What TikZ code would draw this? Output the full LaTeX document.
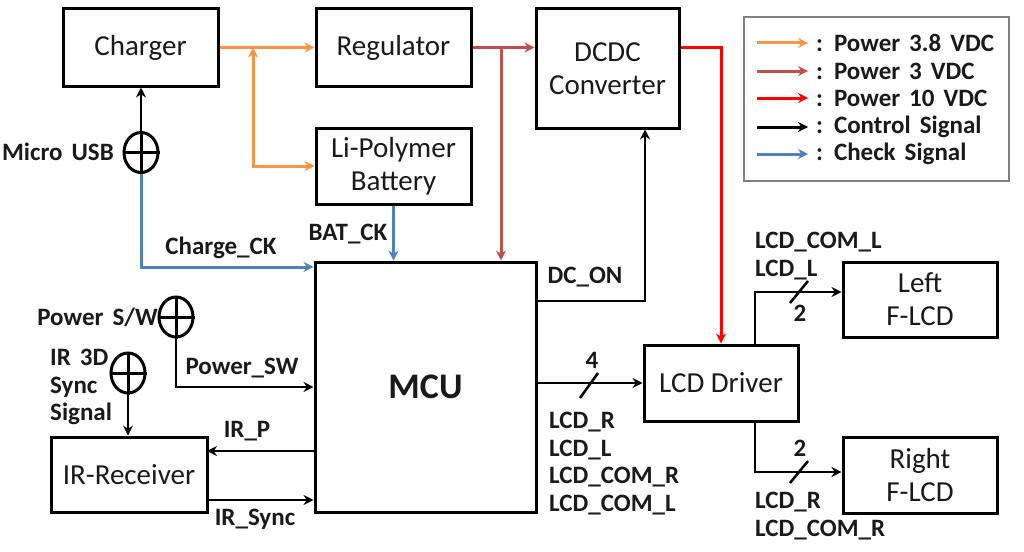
\documentclass[tikz,border=0pt]{standalone}
\usepackage{fontspec}
\setmainfont{Carlito}[BoldFeatures={WordSpace=1.6}]
\usetikzlibrary{arrows.meta,shapes.geometric,calc}
\definecolor{cOrange}{HTML}{F79646}
\definecolor{cBrown}{HTML}{C0504D}
\definecolor{cRed}{HTML}{FF0000}
\definecolor{cBlue}{HTML}{4F81BD}
\definecolor{cText}{HTML}{1A1A1A}
\definecolor{cGray}{HTML}{808080}
\tikzset{
  >={Stealth[length=10pt,width=10pt]},
  blk/.style={draw=black, line width=3pt, text=cText, font=\fontsize{29}{33}\selectfont, align=center, inner sep=0pt},
  lbl/.style={font=\bfseries\fontsize{25}{27.5}\selectfont, text=cText, inner sep=0pt},
  conn/.style={line width=2.5pt, ->},
  pOrange/.style={conn, draw=cOrange, line width=3pt},
  pBrown/.style={conn, draw=cBrown, line width=3pt},
  pRed/.style={conn, draw=cRed, line width=3pt},
  pCtrl/.style={conn, draw=black},
  pCheck/.style={conn, draw=cBlue, line width=3pt},
  jack/.style={ellipse, draw=black, line width=3pt, minimum width=34pt, minimum height=40pt, inner sep=0pt},
  busslash/.style={line width=2.5pt, draw=black},
}
\begin{document}
\begin{tikzpicture}[x=1pt,y=-1pt]
\useasboundingbox (0,0) rectangle (1024,551);
\fill[white] (0,0) rectangle (1024,551);

% blocks
\node[blk, minimum width=155pt, minimum height=77pt] (charger) at (140.5,47.5) {Charger};
\node[blk, minimum width=155pt, minimum height=77pt] (regulator) at (393.5,47.5) {Regulator};
\node[blk, minimum width=155pt, minimum height=76pt] (battery) at (393.5,166) {Li-Polymer\\Battery};
\node[blk, minimum width=143pt, minimum height=119pt] (dcdc) at (607.5,68.5) {DCDC\\Converter};
\node[blk, minimum width=221pt, minimum height=250pt, font=\bfseries\fontsize{36}{40}\selectfont] (mcu) at (425.5,387) {MCU};
\node[blk, minimum width=154pt, minimum height=76pt] (lcd) at (721,383) {LCD Driver};
\node[blk, minimum width=154pt, minimum height=75pt] (left) at (920,299.5) {Left\\F-LCD};
\node[blk, minimum width=154pt, minimum height=76pt] (right) at (920,475) {Right\\F-LCD};
\node[blk, minimum width=156pt, minimum height=75pt] (irr) at (129,474.5) {IR-Receiver};

% jacks
\node[jack] (usb) at (141,152.5) {};
\node[jack] (psw) at (176,317) {};
\node[jack] (ir3d) at (128,373) {};
\foreach \j in {usb,psw,ir3d}{
  \draw[line width=3pt] (\j.west) -- (\j.east) (\j.north) -- (\j.south);
}

% junction coordinates
\coordinate (j1) at (253,47.5);
\coordinate (j2) at (501,47.5);
\coordinate (j3) at (721,47.5);
\coordinate (dcon) at (645,301);
\coordinate (ck) at (141,267);
\coordinate (irp) at (207,451);
\coordinate (irs) at (207,500);
\coordinate (lu) at (755,292);
\coordinate (ld) at (755,472);

% power lines
\draw[pOrange] (charger.east) -- (regulator.west);
\draw[pOrange, <->] (j1) |- (battery.west);
\draw[pBrown] (regulator.east) -- (regulator.east -| dcdc.west);
\draw[pBrown] (j2) -- (j2 |- mcu.north);
\draw[pRed] (regulator.east -| dcdc.east) -- (j3) -- (j3 |- lcd.north);

% control
\draw[pCtrl] (usb.north) -- (usb.north |- charger.south);
\draw[pCtrl] (mcu.east |- dcon) -- (dcon) -- (dcon |- dcdc.south);
\draw[pCtrl] (psw.south) |- (mcu.west);
\draw[pCtrl] (ir3d.south) -- (ir3d.south |- irr.north);
\draw[pCtrl] (mcu.west |- irp) -- (irp);
\draw[pCtrl] (irs) -- (mcu.west |- irs);
\draw[pCtrl] (mcu.east |- lcd.west) -- (lcd.west);
\draw[pCtrl] (lcd.north -| lu) -- (lu) -- (lu -| left.west);
\draw[pCtrl] (lcd.south -| ld) -- (ld) -- (ld -| right.west);

% check
\draw[pCheck] (usb.south) -- (ck) -- (ck -| mcu.west);
\draw[pCheck] (battery.south) -- (battery.south |- mcu.north);

% bus slashes
\draw[busslash] (580,398) -- (598,373);
\draw[busslash] (790,303) -- (808,281);
\draw[busslash] (790,483) -- (808,461);

% labels
\node[lbl, anchor=east] (lusb) at (114,152) {Micro USB};
\node[lbl] (lck) at (221,248) {Charge\_CK};
\node[lbl] (lbat) at (348,234) {BAT\_CK};
\node[lbl, anchor=east] (lpsw) at (158,317) {Power S/W};
\node[lbl, anchor=north west, align=left] (lir3d) at (50,349) {IR 3D\\Sync\\Signal};
\node[lbl] (lpsw2) at (242,368) {Power\_SW};
\node[lbl] (lirp) at (247,431) {IR\_P};
\node[lbl] (lirs) at (255,519) {IR\_Sync};
\node[lbl] (ldcon) at (585,277) {DC\_ON};
\node[lbl] (l4) at (592,360) {4};
\node[lbl, anchor=north west, align=left] (lbus) at (549,412) {LCD\_R\\LCD\_L\\LCD\_COM\_R\\LCD\_COM\_L};
\node[lbl, anchor=north west, align=left] (lleft) at (755,232) {LCD\_COM\_L\\LCD\_L};
\node[lbl] (l2a) at (800,313) {2};
\node[lbl] (l2b) at (800,448) {2};
\node[lbl, anchor=north west, align=left] (lright) at (755,492) {LCD\_R\\LCD\_COM\_R};

% legend
\node[draw=cGray, line width=1.5pt, minimum width=265pt, minimum height=164pt, inner sep=0pt] (legend) at (876.5,99) {};
\foreach \i/\y/\s/\t in {1/43/pOrange/{: Power 3.8 VDC},2/71/pBrown/{: Power 3 VDC},3/98/pRed/{: Power 10 VDC},4/127/pCtrl/{: Control Signal},5/154/pCheck/{: Check Signal}}{
  \coordinate (la\i) at (757,\y);
  \coordinate (lb\i) at (808,\y);
  \draw[\s, line width=3pt] (la\i) -- (lb\i);
  \node[lbl, anchor=west] (lt\i) at (816,\y) {\t};
}
\end{tikzpicture}
\end{document}
